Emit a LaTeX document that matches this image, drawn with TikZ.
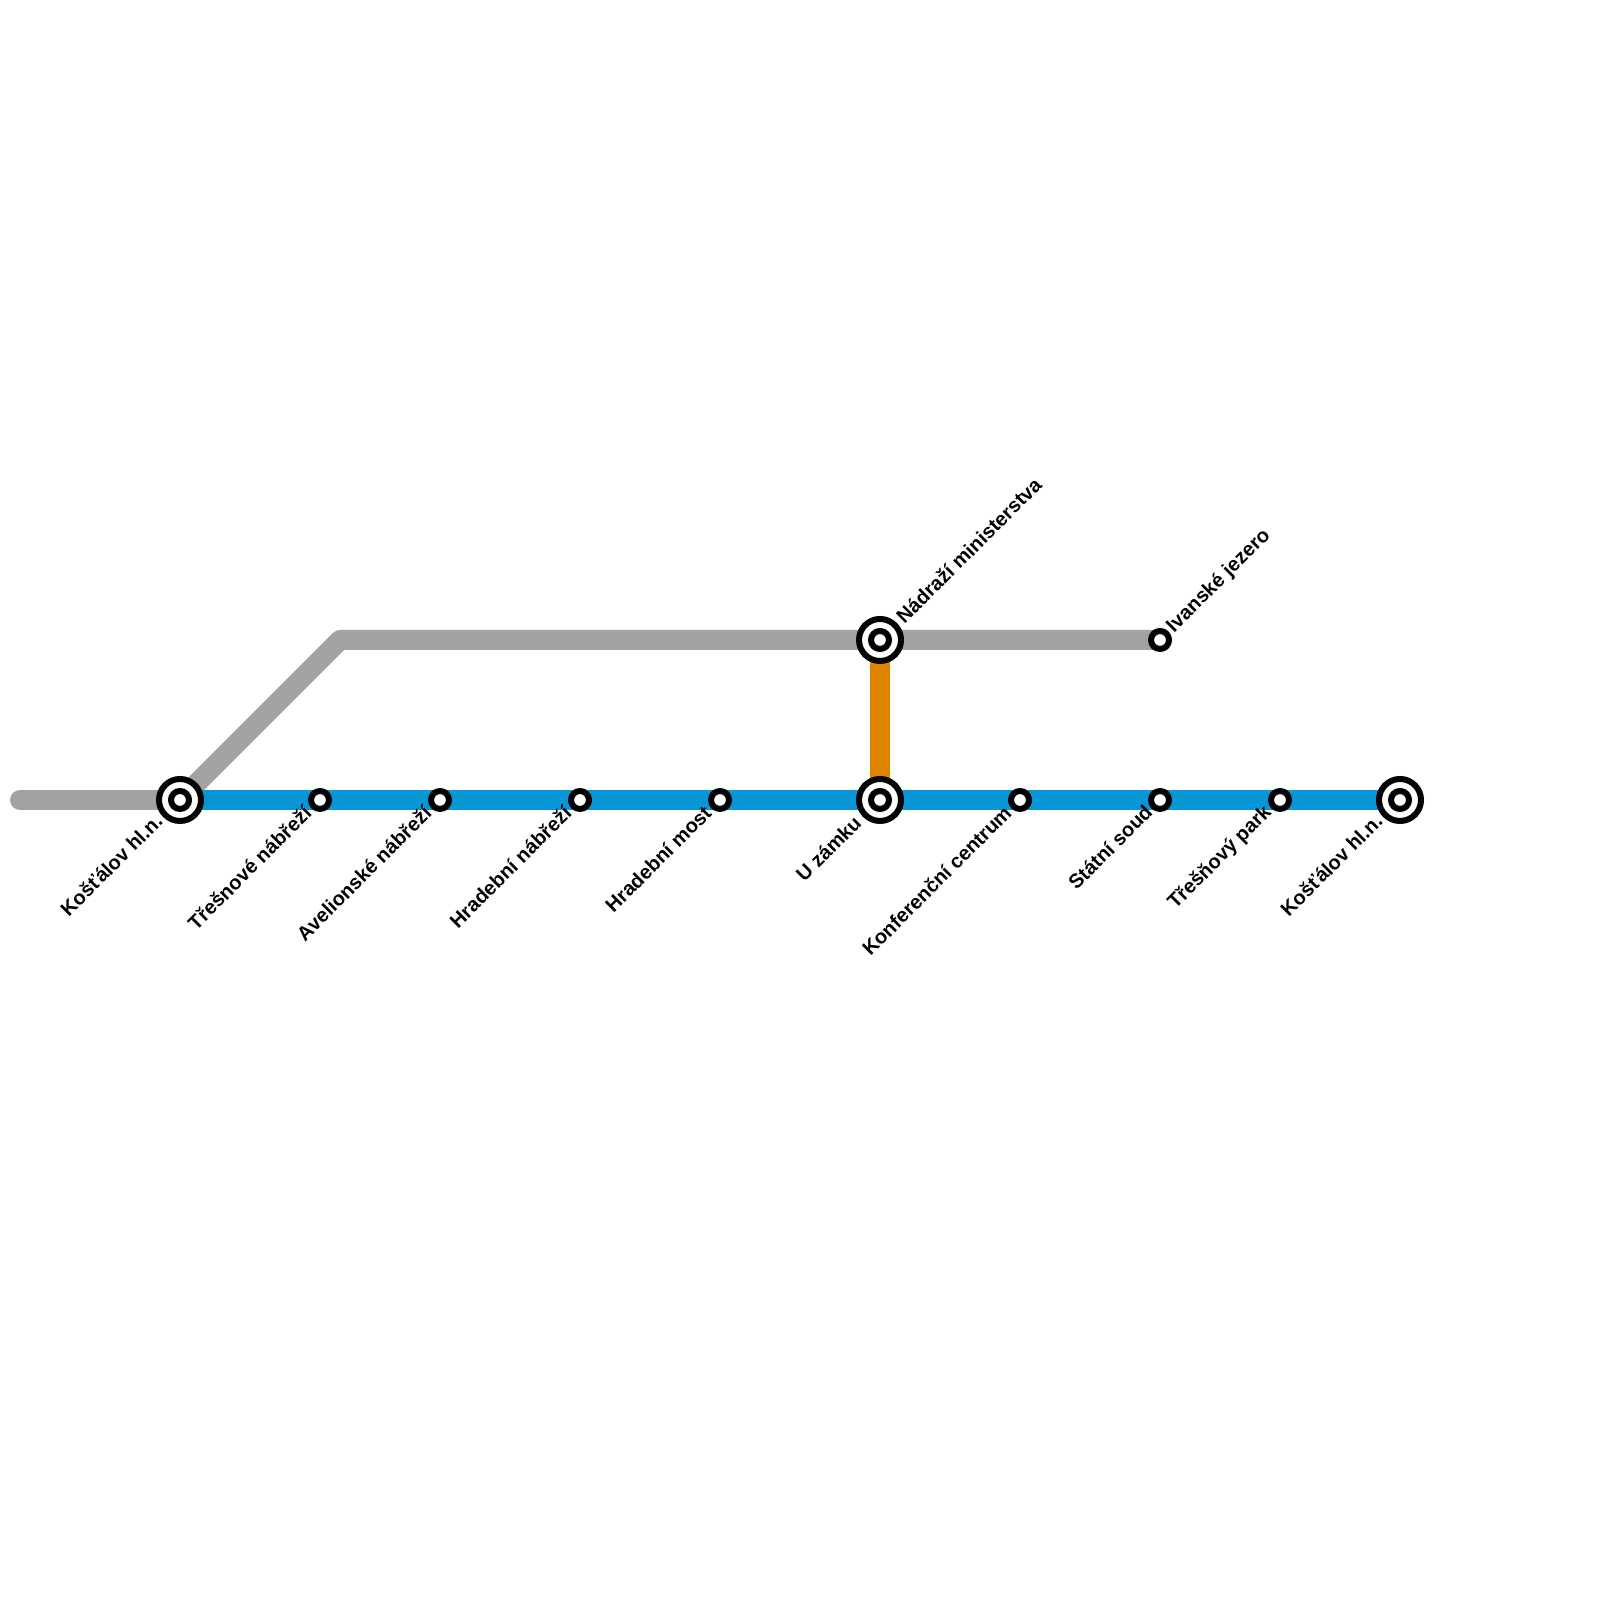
\documentclass[tikz,border=0pt]{standalone}
\usepackage{fontspec}
\usepackage{xcolor}
\setmainfont{Liberation Sans}
\usetikzlibrary{positioning,calc,backgrounds}

\begin{document}
\begin{tikzpicture}[
  font=\fontsize{5.69pt}{6.8pt}\selectfont\bfseries,
  track/.style={line width=0.2cm},
  stopring/.style={circle, draw=black, fill=white, line width=0.06cm, minimum size=0.18cm, inner sep=0pt},
  hubring/.style={circle, draw=black, fill=white, line width=0.06cm, minimum size=0.42cm, inner sep=0pt},
  downname/.style={rotate=45, anchor=east, inner sep=0pt},
  upname/.style={rotate=45, anchor=west, inner sep=0pt}
]

\definecolor{greyline}{RGB}{162,162,162}
\definecolor{blueline}{RGB}{10,150,214}
\definecolor{orangeline}{RGB}{222,133,0}

\useasboundingbox (0,0) rectangle (16,16);

% Hubs first, the tracks go behind them on the background layer.
\node[hubring] (hubwest) at (1.80,8.00) {};
\node[hubring] (hubcastle) at (8.80,8.00) {};
\node[hubring] (hubministry) at (8.80,9.60) {};
\node[hubring] (hubeast) at (14.00,8.00) {};
\node[stopring] (hubwestin) at (hubwest) {};
\node[stopring] (hubcastlein) at (hubcastle) {};
\node[stopring] (hubministryin) at (hubministry) {};
\node[stopring] (hubeastin) at (hubeast) {};

\foreach \name/\x in {cherryquay/3.20,avelquay/4.40,wallquay/5.80,wallbridge/7.20,congress/10.20,court/11.60,cherrypark/12.80} {
  \node[stopring] (\name) at (\x,8.00) {};
}
\node[stopring] (lake) at (11.60,9.60) {};

\coordinate (greystart) at (0.20,8.00);
\coordinate (greybend) at (3.40,9.60);

\begin{scope}[on background layer]
  \draw[track, draw=greyline, line cap=round] (greystart) -- (hubwest.center);
  \draw[track, draw=greyline, line join=round] (hubwest.center) -- (greybend) -- (hubministry.center) -- (lake.center);
  \draw[track, draw=orangeline] (hubministry.center) -- (hubcastle.center);
  \draw[track, draw=blueline] (hubwest.center) -- (hubeast.center);
\end{scope}

% Names sit on the diagonal, ending or starting next to the station.
\node[downname] (namewest) at (1.59,7.83) {Košťálov hl.n.};
\node[downname] (namecherryquay) at (3.08,7.91) {Třešnové nábřeží};
\node[downname] (nameavelquay) at (4.28,7.91) {Avelionské nábřeží};
\node[downname] (namewallquay) at (5.68,7.91) {Hradební nábřeží};
\node[downname] (namewallbridge) at (7.08,7.91) {Hradební most};
\node[downname] (namecastle) at (8.58,7.81) {U zámku};
\node[downname] (namecongress) at (10.08,7.91) {Konferenční centrum};
\node[downname] (namecourt) at (11.49,7.92) {Státní soud};
\node[downname] (namecherrypark) at (12.69,7.91) {Třešňový park};
\node[downname] (nameeast) at (13.79,7.83) {Košťálov hl.n.};
\node[upname] (nameministry) at (8.99,9.80) {Nádraží ministerstva};
\node[upname] (namelake) at (11.70,9.70) {Ivanské jezero};

\end{tikzpicture}
\end{document}
